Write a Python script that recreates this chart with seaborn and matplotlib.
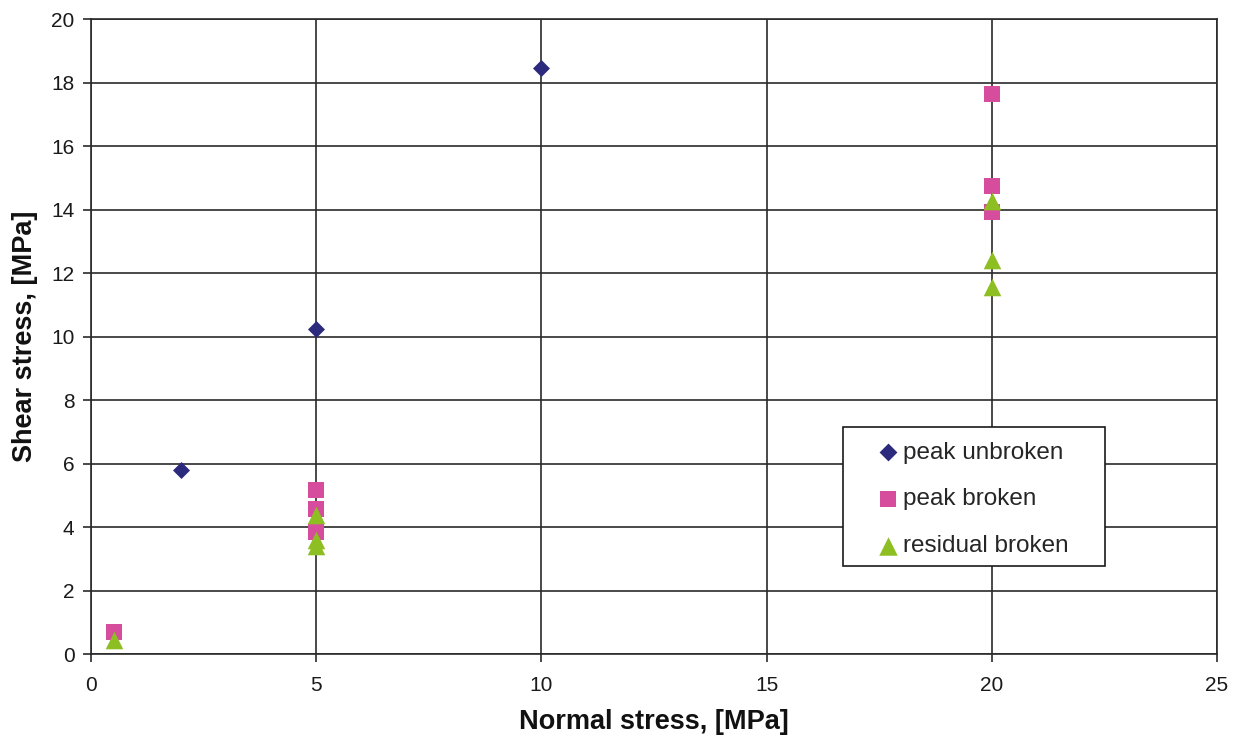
import pandas as pd
import matplotlib.pyplot as plt
from matplotlib.patches import Rectangle
import seaborn as sns

# --- datos ---
unbroken_x = [2, 5, 10]
unbroken_y = [5.8, 10.25, 18.45]

peak_broken_x = [0.5, 5, 5, 5, 20, 20, 20]
peak_broken_y = [0.7, 5.17, 4.58, 3.85, 17.64, 14.74, 13.92]

residual_x = [0.5, 5, 5, 5, 20, 20, 20]
residual_y = [0.45, 4.37, 3.6, 3.4, 14.27, 12.42, 11.55]

series_names = ['peak unbroken', 'peak broken', 'residual broken']

df = pd.concat([
    pd.DataFrame({'x': unbroken_x, 'y': unbroken_y, 'serie': series_names[0]}),
    pd.DataFrame({'x': peak_broken_x, 'y': peak_broken_y, 'serie': series_names[1]}),
    pd.DataFrame({'x': residual_x, 'y': residual_y, 'serie': series_names[2]}),
], ignore_index=True)

sns.set_theme(style="white")
plt.rcParams['font.family'] = ['Liberation Sans', 'DejaVu Sans']

fig = plt.figure(figsize=(12.44, 7.4), dpi=100)
ax = fig.add_axes([0.0732, 0.1162, 0.9051, 0.8581])

palette = {'peak unbroken': '#2B2A7C', 'peak broken': '#D64D9E', 'residual broken': '#8DBE22'}
markers = {'peak unbroken': 'D', 'peak broken': 's', 'residual broken': '^'}
sizes = {'peak unbroken': 75, 'peak broken': 135, 'residual broken': 160}

for name in series_names:
    sub = df[df['serie'] == name]
    sns.scatterplot(data=sub, x='x', y='y', ax=ax, color=palette[name],
                    marker=markers[name], s=sizes[name], linewidth=0,
                    label=name, zorder=3)

ax.set_xlim(0, 25)
ax.set_ylim(0, 20)
ax.set_xticks(range(0, 26, 5))
ax.set_yticks(range(0, 21, 2))
ax.grid(True, color='#2a2a2a', linewidth=1.2)
ax.set_axisbelow(True)
for sp in ax.spines.values():
    sp.set_color('#2a2a2a')
    sp.set_linewidth(1.2)
ax.tick_params(axis='both', direction='out', length=6, width=1.2, color='#2a2a2a',
               labelsize=15, labelcolor='#1a1a1a', bottom=True, left=True)
ax.tick_params(axis='x', pad=10)
ax.tick_params(axis='y', pad=6)

ax.set_xlabel('Normal stress, [MPa]', fontsize=19.5, fontweight='bold', color='#111111', va='center')
ax.set_ylabel('Shear stress, [MPa]', fontsize=19.5, fontweight='bold', color='#111111', va='center')
ax.xaxis.set_label_coords(0.5, -0.107)
ax.yaxis.set_label_coords(-0.0586, 0.5)

# marco de la leyenda
ax.add_patch(Rectangle((0.668, 0.1386), 0.2327, 0.2189, transform=ax.transAxes,
                       facecolor='white', edgecolor='#1a1a1a', linewidth=1.2, zorder=4))

leg = ax.legend(loc='center', bbox_to_anchor=(0.7815, 0.2435), fontsize=17.5,
                frameon=False, handletextpad=0.0, labelspacing=1.02,
                borderpad=0.0, handlelength=1.25, markerscale=1.05)
leg.set_zorder(5)

plt.savefig('out.png', dpi=100)
plt.close()
